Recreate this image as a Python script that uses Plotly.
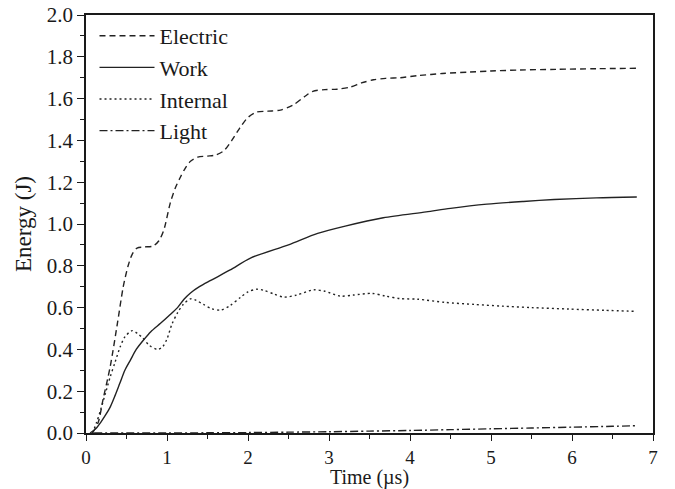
import plotly.graph_objects as go

# ---- data ----
t_electric = [0.08, 0.15, 0.21, 0.30, 0.39, 0.46, 0.52, 0.57, 0.63, 0.72, 0.83, 0.90, 0.96, 1.04, 1.10,
              1.16, 1.23, 1.29, 1.38, 1.50, 1.60, 1.70, 1.80, 1.90, 2.00, 2.10, 2.25, 2.40, 2.56, 2.70,
              2.80, 2.95, 3.10, 3.26, 3.40, 3.55, 3.70, 3.88, 4.10, 4.40, 4.74, 5.00, 5.36, 5.80, 6.30, 6.80]
electric = [0.0, 0.05, 0.16, 0.32, 0.53, 0.70, 0.80, 0.855, 0.885, 0.89, 0.895, 0.92, 0.97, 1.10, 1.17,
            1.22, 1.27, 1.30, 1.32, 1.325, 1.33, 1.35, 1.40, 1.46, 1.51, 1.535, 1.54, 1.545, 1.57, 1.61,
            1.635, 1.643, 1.645, 1.655, 1.675, 1.69, 1.697, 1.70, 1.71, 1.72, 1.727, 1.732, 1.737, 1.74, 1.743, 1.745]

t_work = [0.05, 0.12, 0.18, 0.24, 0.30, 0.36, 0.42, 0.48, 0.55, 0.62, 0.71, 0.80, 0.92, 1.02, 1.13,
          1.21, 1.29, 1.40, 1.54, 1.78, 2.03, 2.50, 2.86, 3.20, 3.67, 4.20, 4.50, 4.95, 5.40, 5.78, 6.30, 6.80]
work = [0.0, 0.02, 0.05, 0.085, 0.125, 0.18, 0.24, 0.30, 0.35, 0.40, 0.445, 0.485, 0.525, 0.56, 0.60,
        0.64, 0.67, 0.70, 0.73, 0.78, 0.837, 0.90, 0.955, 0.99, 1.030, 1.058, 1.075, 1.095, 1.108, 1.117, 1.125, 1.129]

t_internal = [0.08, 0.13, 0.18, 0.24, 0.30, 0.36, 0.42, 0.48, 0.57, 0.64, 0.70, 0.78, 0.88, 0.94, 1.00,
              1.06, 1.13, 1.20, 1.29, 1.36, 1.45, 1.55, 1.66, 1.78, 1.91, 2.00, 2.11, 2.20, 2.32, 2.44,
              2.60, 2.81, 2.95, 3.14, 3.30, 3.53, 3.70, 3.88, 4.10, 4.43, 4.80, 5.14, 5.50, 5.96, 6.40, 6.80]
internal = [0.0, 0.05, 0.11, 0.19, 0.27, 0.34, 0.41, 0.46, 0.49, 0.475, 0.455, 0.42, 0.40, 0.41, 0.45,
            0.52, 0.575, 0.615, 0.642, 0.635, 0.615, 0.595, 0.588, 0.61, 0.65, 0.675, 0.688, 0.682, 0.665, 0.65,
            0.66, 0.685, 0.678, 0.655, 0.66, 0.668, 0.655, 0.643, 0.64, 0.625, 0.615, 0.607, 0.60, 0.593, 0.587, 0.582]

t_light = [0.10, 1.00, 1.50, 2.00, 2.50, 3.00, 3.50, 4.00, 4.50, 5.00, 5.50, 6.00, 6.50, 6.80]
light = [0.0, 0.0, 0.001, 0.002, 0.004, 0.006, 0.009, 0.012, 0.016, 0.020, 0.024, 0.028, 0.032, 0.035]

x_range = [0, 7.00001]
y_range = [0, 2.00001]

FONT = "Liberation Serif, Times New Roman, serif"
INK = "#1a1a1a"

fig = go.Figure()
series = [
    ("Electric", t_electric, electric, "6px,4px"),
    ("Work", t_work, work, "solid"),
    ("Internal", t_internal, internal, "2px,3px"),
    ("Light", t_light, light, "8px,3px,2px,3px"),
]
for name, tx, ty, dash in series:
    fig.add_trace(go.Scatter(
        x=tx, y=ty, mode="lines", name=name,
        line=dict(color="#222222", width=1.4, dash=dash, shape="spline", smoothing=0.8),
    ))

axis_common = dict(showline=True, linecolor=INK, linewidth=1.5, showgrid=False, zeroline=False,
                   tickcolor=INK, tickwidth=1.3, automargin=False, ticklabeloverflow="allow")

fig.update_layout(
    width=675, height=489,
    margin=dict(l=86, r=22, t=15, b=56),
    paper_bgcolor="white", plot_bgcolor="white",
    font=dict(family=FONT, size=21, color=INK),
    showlegend=True,
    legend=dict(x=0.015, y=1.0, xanchor="left", yanchor="top", bgcolor="rgba(0,0,0,0)",
                font=dict(family=FONT, size=22, color=INK), itemwidth=55,
                traceorder="normal"),
    xaxis=dict(range=x_range, tick0=0, dtick=1, ticks="outside", ticklen=6, mirror=True,
               minor=dict(dtick=0.5, ticks="outside", ticklen=4, tickcolor=INK, tickwidth=1.3),
               title=dict(text="Time (µs)", standoff=7, font=dict(size=20)),
               tickfont=dict(size=19), **axis_common),
    yaxis=dict(range=y_range, tick0=0, dtick=0.2, tickformat=".1f", ticks="outside", ticklen=7, mirror=True,
               minor=dict(dtick=0.1, ticks="outside", ticklen=4, tickcolor=INK, tickwidth=1.3),
               title=dict(text="Energy (J)", standoff=9, font=dict(size=23)),
               tickfont=dict(size=21), **axis_common),
    xaxis2=dict(range=x_range, tick0=0, overlaying="x", side="top", anchor="y", dtick=1, ticks="inside",
                ticklen=8, showticklabels=False,
                minor=dict(dtick=0.5, ticks="inside", ticklen=5, tickcolor=INK, tickwidth=1.3),
                **axis_common),
    yaxis2=dict(range=y_range, tick0=0, overlaying="y", side="right", anchor="x", dtick=0.2, ticks="inside",
                ticklen=8, showticklabels=False,
                minor=dict(dtick=0.1, ticks="inside", ticklen=5, tickcolor=INK, tickwidth=1.3),
                **axis_common),
)

# remove the page's default body margin so the figure fills the window exactly
fig.write_html("out.html", config={"displayModeBar": False},
               post_script="document.body.style.margin='0';")
